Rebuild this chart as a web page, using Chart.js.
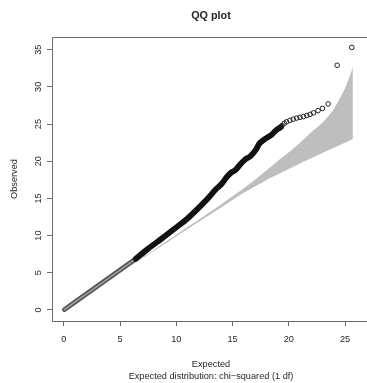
<!DOCTYPE html>
<html>
<head>
<meta charset="utf-8">
<title>QQ plot</title>
<script src="https://cdn.jsdelivr.net/npm/chart.js@4.4.1/dist/chart.umd.min.js"></script>
<style>
    html, body { margin: 0; padding: 0; background: #ffffff; }
    #qqChart { display: block; }
</style>
</head>
<body>
<canvas id="qqChart" width="367" height="383"></canvas>
<script>
// ==========================================================================
// DATA
// ==========================================================================
const xTicks = [0, 5, 10, 15, 20, 25];
const yTicks = [0, 5, 10, 15, 20, 25, 30, 35];

// lower part of the QQ curve (dense points, rendered grey)
const lowExpected = [0.05, 1, 2, 3, 4, 5, 6, 6.4];
const lowObserved = [0.05, 1.08, 2.15, 3.22, 4.3, 5.37, 6.45, 6.88];

// middle part of the QQ curve (dense points, rendered black)
const midExpected = [6.4, 7.5, 8.7, 9.9, 11.0, 11.9, 12.8, 13.5, 14.0, 14.5, 14.9, 15.25, 15.7, 16.1, 16.6, 17.1, 17.4, 17.9, 18.5, 18.9, 19.3];
const midObserved = [6.88, 8.25, 9.6, 11.0, 12.3, 13.6, 15.0, 16.2, 16.9, 17.9, 18.5, 18.8, 19.6, 20.2, 20.7, 21.6, 22.4, 23.0, 23.6, 24.2, 24.6];

// sparse tail, single open circles
const tailExpected = [19.0, 19.2, 19.4, 19.6, 19.8, 20.1, 20.4, 20.7, 21.0, 21.3, 21.6, 21.9, 22.2, 22.6, 23.0, 23.5, 24.3, 25.6];
const tailObserved = [24.3, 24.5, 24.8, 25.1, 25.3, 25.5, 25.65, 25.8, 25.9, 26.0, 26.15, 26.3, 26.5, 26.8, 27.1, 27.7, 32.9, 35.3];

// confidence band around y = x
const bandExpected = [6, 8, 10, 12, 14, 16, 17, 18, 19, 20, 21, 22, 23, 24, 25, 25.7];
const bandUpper = [6.05, 8.08, 10.12, 12.15, 14.22, 16.35, 17.5, 18.75, 20.0, 21.2, 22.5, 23.9, 25.2, 27.0, 29.8, 32.6];
const bandLower = [5.95, 7.92, 9.88, 11.85, 13.78, 15.75, 16.6, 17.45, 18.2, 18.95, 19.7, 20.4, 21.1, 21.8, 22.5, 23.0];

const toPoints = (xs, ys) => xs.map((x, i) => ({ x: x, y: ys[i] }));

// ==========================================================================
// R STYLE DECORATION (title, box, tick labels, axis titles)
// ==========================================================================
const FONT = '"Liberation Sans", Arial, Helvetica, sans-serif';

const rDecorations = {
    id: 'rDecorations',
    afterDraw(chart) {
        const ctx = chart.ctx;
        const area = chart.chartArea;
        const xs = chart.scales.x;
        const ys = chart.scales.y;
        const midX = 211;

        ctx.save();

        // box (right side runs off the picture)
        ctx.strokeStyle = '#6a6a6a';
        ctx.lineWidth = 1;
        ctx.beginPath();
        ctx.moveTo(area.right + 5, Math.round(area.top) + 0.5);
        ctx.lineTo(Math.round(area.left) + 0.5, Math.round(area.top) + 0.5);
        ctx.lineTo(Math.round(area.left) + 0.5, Math.round(area.bottom) + 0.5);
        ctx.lineTo(area.right + 5, Math.round(area.bottom) + 0.5);
        ctx.stroke();

        ctx.fillStyle = '#262626';

        // title
        ctx.font = 'bold 10.8px ' + FONT;
        ctx.textAlign = 'center';
        ctx.textBaseline = 'alphabetic';
        ctx.fillText('QQ plot', midX, 18.5);

        // x tick labels
        ctx.font = '9.2px ' + FONT;
        xTicks.forEach(v => {
            ctx.fillText(String(v), xs.getPixelForValue(v), 341.5);
        });

        // x axis title + subtitle
        ctx.fillText('Expected', midX, 367);
        ctx.fillText('Expected distribution: chi\u2212squared (1 df)', midX, 379);

        // y tick labels (rotated like R's las = 0)
        yTicks.forEach(v => {
            ctx.save();
            ctx.translate(41, ys.getPixelForValue(v));
            ctx.rotate(-Math.PI / 2);
            ctx.fillText(String(v), 0, 0);
            ctx.restore();
        });

        // y axis title
        ctx.save();
        ctx.translate(17, (area.top + area.bottom) / 2);
        ctx.rotate(-Math.PI / 2);
        ctx.fillText('Observed', 0, 0);
        ctx.restore();

        ctx.restore();
    }
};

// ==========================================================================
// CHART
// ==========================================================================
const ctxQQ = document.getElementById('qqChart').getContext('2d');

new Chart(ctxQQ, {
    type: 'line',
    data: {
        datasets: [
            {
                label: 'tail',
                data: toPoints(tailExpected, tailObserved),
                showLine: false,
                pointRadius: 2.3,
                pointBorderWidth: 1,
                pointBorderColor: '#1e1e1e',
                pointBackgroundColor: 'rgba(0,0,0,0)',
                order: 0
            },
            {
                label: 'dense black',
                data: toPoints(midExpected, midObserved),
                borderColor: '#111111',
                borderWidth: 5.8,
                borderCapStyle: 'round',
                borderJoinStyle: 'round',
                pointRadius: 0,
                tension: 0.3,
                order: 1
            },
            {
                // light core of the overlapping open circles
                label: 'dense grey core',
                data: toPoints(lowExpected, lowObserved),
                borderColor: '#a4a4a4',
                borderWidth: 1.5,
                borderCapStyle: 'round',
                pointRadius: 0,
                order: 2
            },
            {
                label: 'dense grey',
                data: toPoints(lowExpected, lowObserved),
                borderColor: '#555555',
                borderWidth: 4.8,
                borderCapStyle: 'round',
                borderJoinStyle: 'round',
                pointRadius: 0,
                order: 3
            },
            {
                label: 'band upper',
                data: toPoints(bandExpected, bandUpper),
                borderWidth: 0,
                borderColor: 'rgba(0,0,0,0)',
                backgroundColor: '#bebebe',
                pointRadius: 0,
                fill: '+1',
                tension: 0.2,
                order: 5
            },
            {
                label: 'band lower',
                data: toPoints(bandExpected, bandLower),
                borderWidth: 0,
                borderColor: 'rgba(0,0,0,0)',
                pointRadius: 0,
                fill: false,
                tension: 0.2,
                order: 6
            }
        ]
    },
    options: {
        responsive: false,
        animation: false,
        layout: { padding: { top: 37, right: 0, bottom: 0, left: 0 } },
        plugins: {
            legend: { display: false },
            tooltip: { enabled: false },
            title: { display: false }
        },
        scales: {
            x: {
                type: 'linear',
                min: -1.05,
                max: 26.51,
                afterBuildTicks: s => { s.ticks = xTicks.map(v => ({ value: v })); },
                afterFit: s => { s.height = 62; },
                ticks: { display: false },
                border: { display: false },
                grid: {
                    display: true,
                    drawOnChartArea: false,
                    drawTicks: true,
                    tickLength: 5,
                    color: '#6a6a6a',
                    lineWidth: 1
                }
            },
            y: {
                type: 'linear',
                min: -1.48,
                max: 36.7,
                afterBuildTicks: s => { s.ticks = yTicks.map(v => ({ value: v })); },
                afterFit: s => { s.width = 52; },
                ticks: { display: false },
                border: { display: false },
                grid: {
                    display: true,
                    drawOnChartArea: false,
                    drawTicks: true,
                    tickLength: 5,
                    color: '#6a6a6a',
                    lineWidth: 1
                }
            }
        }
    },
    plugins: [rDecorations]
});
</script>
</body>
</html>
